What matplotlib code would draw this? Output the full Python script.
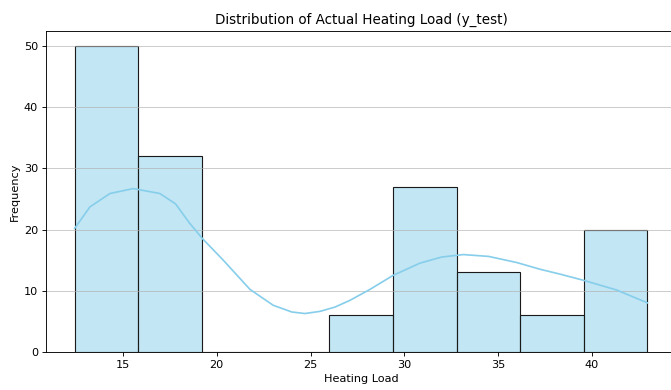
import numpy as np
import matplotlib
matplotlib.use('Agg')
import matplotlib.pyplot as plt

# histogram of y_test heating load (9 bins)
bin_edges = [12.42, 15.81, 19.21, 22.60, 26.00, 29.39, 32.79, 36.18, 39.58, 42.97]
counts = [50, 32, 0, 0, 6, 27, 13, 6, 20]

# kde curve, scaled to counts
kde_x = [12.42, 13.23, 14.30, 15.54, 16.96, 17.80, 18.56, 19.24, 20.34, 21.77,
         23.01, 24.00, 24.70, 25.50, 26.30, 27.10, 28.17, 29.41, 30.84, 32.00,
         33.15, 34.50, 36.00, 37.24, 38.31, 39.55, 41.33, 42.97]
kde_y = [20.2, 23.7, 25.9, 26.7, 25.9, 24.2, 21.0, 18.5, 15.0, 10.2,
         7.6, 6.5, 6.25, 6.6, 7.3, 8.4, 10.2, 12.5, 14.5, 15.5,
         15.9, 15.6, 14.6, 13.5, 12.7, 11.7, 10.1, 8.0]

dpi = 81
fig = plt.figure(figsize=(671 / dpi, 390 / dpi), dpi=dpi)
ax = fig.add_axes([0.0686, 0.0982, 0.9389, 0.8223])

edges = np.array(bin_edges)
ax.bar(edges[:-1], counts, width=np.diff(edges), align='edge',
       facecolor=(135/255, 206/255, 235/255, 0.5), edgecolor='#1a1a1a', linewidth=1.0)
ax.plot(kde_x, kde_y, color='skyblue', linewidth=1.5, solid_joinstyle='round')

ax.set_xlim(10.89, 44.5)
ax.set_ylim(0, 52.5)
ax.set_title('Distribution of Actual Heating Load (y_test)')
ax.set_xlabel('Heating Load')
ax.set_ylabel('Frequency')
ax.grid(axis='y', alpha=0.7)

plt.savefig('out.png', dpi=dpi)
